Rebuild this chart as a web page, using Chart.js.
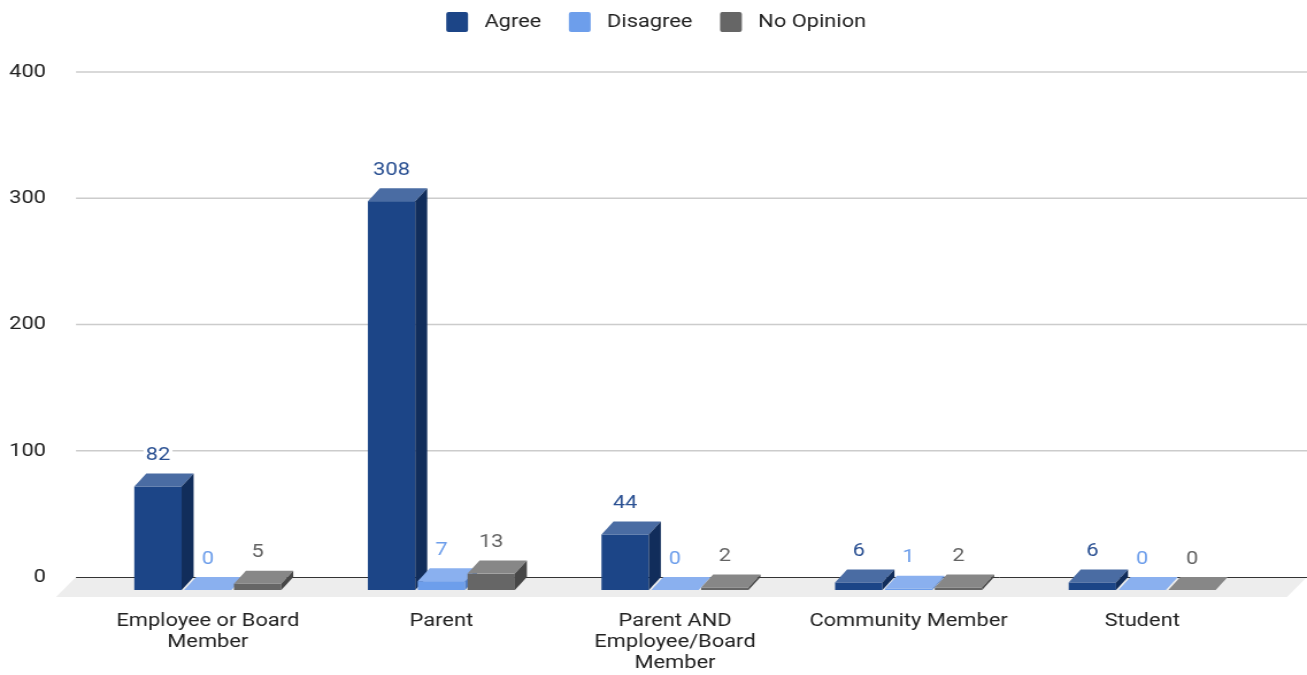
<!DOCTYPE html>
<html>
<head>
<meta charset="utf-8">
<script src="https://cdn.jsdelivr.net/npm/chart.js@4.4.0/dist/chart.umd.min.js"></script>
<style>
  body { margin: 0; background: #fff; }
  /* the reference is a bit wider than tall, so draw narrower and stretch */
  #wrap { width: 1137px; height: 675px; transform: scaleX(1.1495); transform-origin: 0 0; }
</style>
</head>
<body>
<div id="wrap"><canvas id="myChart"></canvas></div>
<script>
const categories = ['Employee or Board Member', 'Parent', 'Parent AND Employee/Board Member', 'Community Member', 'Student'];
const tickLines = [['Employee or Board', 'Member'], ['Parent'], ['Parent AND', 'Employee/Board', 'Member'], ['Community Member'], ['Student']];
const seriesNames = ['Agree', 'Disagree', 'No Opinion'];
const agree = [82, 308, 44, 6, 6];
const disagree = [0, 7, 0, 1, 0];
const noOpinion = [5, 13, 2, 2, 0];
const yTicks = [0, 100, 200, 300, 400];

const frontColors = ['#1c4587', '#6d9eeb', '#666666'];
const topColors = ['#4a6ca3', '#8ab0ef', '#878787'];
const sideColors = ['#112d5b', '#4f7fcc', '#474747'];
const labelColors = ['#2b5193', '#6d9eeb', '#636363'];

const SX = 1307 / 1137;
const DX = 12 / SX;   // depth of the bars, sideways
const DY = 13;        // depth of the bars, down
const FONT = { family: 'Roboto', size: 19 };

function poly(ctx, pts, color) {
  ctx.beginPath();
  ctx.moveTo(pts[0][0], pts[0][1]);
  for (let k = 1; k < pts.length; k++) ctx.lineTo(pts[k][0], pts[k][1]);
  ctx.closePath();
  ctx.fillStyle = color;
  ctx.fill();
}

const bars3d = {
  id: 'bars3d',
  beforeInit(chart) {
    const legend = chart.legend;
    // legend box is taller than its items: the plot starts at the 400 line
    const fit = legend.fit;
    legend.fit = function () {
      fit.call(this);
      this.height = 72;
    };
    // items sit higher and a bit more to the right than chart.js puts them
    const draw = legend.draw;
    legend.draw = function (area) {
      this.ctx.save();
      this.ctx.translate(18, -12);
      draw.call(this, area);
      this.ctx.restore();
    };
  },
  beforeDatasetsDraw(chart) {
    const ctx = chart.ctx;
    const area = chart.chartArea;
    const y = chart.scales.y;
    const left = area.left - 27 / SX;
    const right = chart.width;
    const floorX = 20 / SX, floorY = 20;
    const zy = y.getPixelForValue(0);
    ctx.save();

    // grid lines
    ctx.strokeStyle = '#cccccc';
    ctx.lineWidth = 1.5;
    yTicks.forEach(v => {
      if (v === 0) return;
      const py = y.getPixelForValue(v);
      ctx.beginPath();
      ctx.moveTo(left, py);
      ctx.lineTo(right, py);
      ctx.stroke();
    });

    // floor
    poly(ctx, [[left, zy], [right, zy], [right - floorX, zy + floorY], [left - floorX, zy + floorY]], '#ededed');
    ctx.strokeStyle = '#333333';
    ctx.lineWidth = 1;
    ctx.beginPath();
    ctx.moveTo(left, Math.round(zy) + 0.5);
    ctx.lineTo(right, Math.round(zy) + 0.5);
    ctx.stroke();

    // bars, left to right
    const metas = seriesNames.map((s, d) => chart.getDatasetMeta(d));
    for (let i = 0; i < categories.length; i++) {
      metas.forEach((meta, d) => {
        const el = meta.data[i];
        const x0 = el.x - el.width / 2, x1 = el.x + el.width / 2;
        const top = el.y, base = el.base;
        const fx0 = x0 - DX, fx1 = x1 - DX;
        ctx.fillStyle = frontColors[d];
        ctx.fillRect(fx0, top + DY, fx1 - fx0, base - top);
        poly(ctx, [[fx0, top + DY], [fx1, top + DY], [x1, top], [x0, top]], topColors[d]);
        poly(ctx, [[fx1, top + DY], [x1, top], [x1, base], [fx1, base + DY]], sideColors[d]);
      });
    }

    // value labels
    ctx.font = FONT.size + 'px ' + FONT.family;
    ctx.textAlign = 'center';
    ctx.textBaseline = 'middle';
    metas.forEach((meta, d) => {
      const values = chart.data.datasets[d].data;
      meta.data.forEach((el, i) => {
        const txt = String(values[i]);
        const lx = el.x - DX;
        const ly = el.y - 18;
        const w = ctx.measureText(txt).width;
        ctx.fillStyle = '#ffffff';
        ctx.fillRect(lx - w / 2 - 2, ly - 9, w + 4, 18);
        ctx.fillStyle = labelColors[d];
        ctx.fillText(txt, lx, ly);
      });
    });

    ctx.restore();
    return false;
  }
};

const ctx = document.getElementById('myChart').getContext('2d');
const chart = new Chart(ctx, {
  type: 'bar',
  data: {
    labels: categories,
    datasets: [
      { label: seriesNames[0], data: agree, backgroundColor: frontColors[0] },
      { label: seriesNames[1], data: disagree, backgroundColor: frontColors[1] },
      { label: seriesNames[2], data: noOpinion, backgroundColor: frontColors[2] }
    ]
  },
  options: {
    responsive: true,
    maintainAspectRatio: false,
    animation: false,
    categoryPercentage: 0.64,
    barPercentage: 0.95,
    layout: { padding: { top: 0, right: 36 / SX, bottom: 0, left: 0 } },
    plugins: {
      tooltip: { enabled: false },
      legend: {
        position: 'top',
        labels: {
          font: FONT,
          color: '#222222',
          boxWidth: 19,
          boxHeight: 20,
          useBorderRadius: true,
          borderRadius: 2,
          padding: 24,
          generateLabels(chart) {
            const items = Chart.defaults.plugins.legend.labels.generateLabels(chart);
            items.forEach(it => { it.text = ' ' + it.text; it.lineWidth = 0; });
            return items;
          }
        }
      }
    },
    scales: {
      x: {
        grid: { display: false, drawTicks: false },
        border: { display: false },
        ticks: {
          font: { family: 'Roboto', size: 19, lineHeight: '21px' },
          color: '#222222',
          padding: 34,
          labelOffset: -DX,
          maxRotation: 0,
          autoSkip: false,
          callback: (v, i) => tickLines[i]
        },
        afterFit(scale) { scale.height = 98; }
      },
      y: {
        min: 0,
        max: 400,
        grid: { display: false, drawTicks: false },
        border: { display: false },
        ticks: {
          stepSize: 100,
          font: FONT,
          color: '#222222',
          padding: 57 / SX
        },
        afterFit(scale) { scale.width = 103 / SX; }
      }
    }
  },
  plugins: [bars3d]
});
</script>
</body>
</html>
